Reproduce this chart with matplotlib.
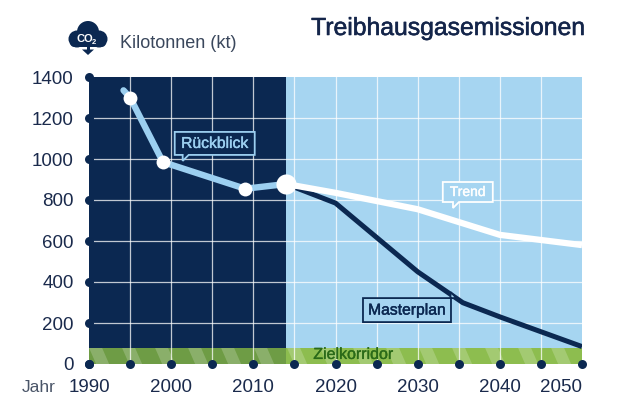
import matplotlib
matplotlib.use('Agg')
import matplotlib.pyplot as plt
import matplotlib.patheffects as pe
from matplotlib.patches import Rectangle, Polygon, Circle, FancyBboxPatch
import numpy as np

plt.rcParams['font.family'] = ['Liberation Sans', 'DejaVu Sans']

# ---------------- data ----------------
back_years = [1994.2, 1995, 1999, 2009, 2014]
back_values = [1335, 1300, 985, 855, 878]
back_marker_years = [1995, 1999, 2009]
back_marker_values = [1300, 985, 855]
now_year = 2014
now_value = 878

trend_years = [2014, 2020, 2030, 2040, 2050]
trend_values = [878, 835, 755, 630, 580]

master_years = [2014, 2020, 2030, 2035.5, 2040, 2050]
master_values = [878, 785, 450, 299, 230, 85]

target_corridor = 78

y_ticks = [0, 200, 400, 600, 800, 1000, 1200, 1400]
x_dot_years = list(range(1990, 2051, 5))
x_label_years = [1990, 2000, 2010, 2020, 2030, 2040, 2050]

title = 'Treibhausgasemissionen'
unit_label = 'Kilotonnen (kt)'
year_label = 'Jahr'

# ---------------- style ----------------
NAVY = '#0b2851'
LIGHT = '#a6d5f1'
RUECK = '#9ccff0'
TXT = '#1a2a4c'

W, H = 640, 420
fig = plt.figure(figsize=(6.4, 4.2), dpi=100)
ax_l, ax_r, ax_t, ax_b = 89, 582, 77, 364
ax = fig.add_axes([ax_l / W, 1 - ax_b / H, (ax_r - ax_l) / W, (ax_b - ax_t) / H])
ax.set_xlim(1990, 2050)
ax.set_ylim(0, 1400)
pxx = 60 / (ax_r - ax_l)      # years per pixel
pxy = 1400 / (ax_b - ax_t)    # kt per pixel

ax.axvspan(1990, now_year, color=NAVY, lw=0, zorder=0)
ax.axvspan(now_year, 2050, color=LIGHT, lw=0, zorder=0)

for yr in x_dot_years[1:-1]:
    ax.axvline(yr, color='white', lw=0.9, alpha=0.75, zorder=4)
for v in y_ticks[1:-1]:
    ax.axhline(v, color='white', lw=0.9, alpha=0.75, zorder=1)

# target corridor band with diagonal stripes
ax.add_patch(Rectangle((1990, 0), now_year - 1990, target_corridor, fc='#6e9c45', lw=0, zorder=2))
ax.add_patch(Rectangle((now_year, 0), 2050 - now_year, target_corridor, fc='#8dbd4f', lw=0, zorder=2))
period, sw, slant = 33 * pxx, 13 * pxx, 7 * pxx
for x0 in np.arange(1986, 2054, period):
    ax.add_patch(Polygon([(x0, target_corridor), (x0 + sw, target_corridor),
                          (x0 + sw + slant, 0), (x0 + slant, 0)],
                         closed=True, fc='white', alpha=0.2, lw=0, zorder=3))
ax.text(2017.3, target_corridor * 0.6, 'Zielkorridor', color='#2a6a18', fontsize=11.5,
        va='center', ha='left', zorder=5,
        path_effects=[pe.withStroke(linewidth=0.25, foreground='#2a6a18')])

# lines
ax.plot(master_years, master_values, color=NAVY, lw=3.6, zorder=6,
        solid_joinstyle='round', solid_capstyle='butt')
ax.plot(trend_years, trend_values, color='white', lw=4.5, zorder=7,
        solid_joinstyle='round', solid_capstyle='butt')
ax.plot(back_years, back_values, color=RUECK, lw=4.6, zorder=7,
        solid_joinstyle='round', solid_capstyle='round')
ax.scatter(back_marker_years, back_marker_values, s=100, c='white', lw=0, zorder=8)
ax.scatter([now_year], [now_value], s=210, c='white', lw=0, zorder=8)

# axis dots
ax.scatter([1990] * len(y_ticks), y_ticks, s=42, c=NAVY, lw=0, zorder=10, clip_on=False)
ax.scatter(x_dot_years, [0] * len(x_dot_years), s=42, c=NAVY, lw=0, zorder=10, clip_on=False)

# ticks
ax.set_yticks(y_ticks, labels=[str(v) for v in y_ticks])
ax.set_xticks(x_label_years, labels=[str(v) for v in x_label_years])
ax.tick_params(axis='both', length=0, labelsize=13.5, labelcolor=TXT)
ax.tick_params(axis='y', pad=11)
ax.tick_params(axis='x', pad=11)
ax.get_xticklabels()[-1].set_horizontalalignment('right')
for s in ax.spines.values():
    s.set_visible(False)


def callout(cx, cy, text, w, h, tail_x, tail_side, bg, ec, tc, fs):
    L, R = cx - w / 2 * pxx, cx + w / 2 * pxx
    B, T = cy - h / 2 * pxy, cy + h / 2 * pxy
    tw, td = 6 * pxx, 6 * pxy
    if tail_side == 'bottom':
        pts = [(L, T), (R, T), (R, B), (tail_x + tw, B), (tail_x, B - td), (tail_x, B), (L, B)]
    else:
        pts = [(L, T), (tail_x, T), (tail_x, T + td), (tail_x + tw, T), (R, T), (R, B), (L, B)]
    ax.add_patch(Polygon(pts, closed=True, fc=bg, ec=ec, lw=1.3, joinstyle='miter', zorder=9))
    ax.text(cx, cy, text, ha='center', va='center', color=tc, fontsize=fs, zorder=10,
            path_effects=[pe.withStroke(linewidth=0.3, foreground=tc)])


callout(2005.3, 1076, 'Rückblick', 80, 23, 2001.4, 'bottom', NAVY, RUECK, RUECK, 11.3)
callout(2036.1, 839, 'Trend', 50, 20, 2034.3, 'bottom', LIGHT, 'white', 'white', 10)
callout(2028.7, 263, 'Masterplan', 88, 24, 2034.0, 'top', LIGHT, NAVY, NAVY, 11.3)

# ---------------- overlay (titles, icon) ----------------
ov = fig.add_axes([0, 0, 1, 1], zorder=20)
ov.set_xlim(0, W)
ov.set_ylim(H, 0)
ov.axis('off')
ov.patch.set_alpha(0)

ov.text(585, 28, title, ha='right', va='center', fontsize=17.8, color='#14254a',
        path_effects=[pe.withStroke(linewidth=0.4, foreground='#14254a')])
ov.text(120, 43, unit_label, ha='left', va='center', fontsize=13, color='#3a475c')
ov.text(22, 387, year_label, ha='left', va='center', fontsize=12.5, color='#4a5568')

# CO2 cloud icon
for (cx, cy, r) in [(88, 32, 11), (77, 39, 8.5), (99, 39, 8.5)]:
    ov.add_patch(Circle((cx, cy), r, fc=NAVY, lw=0))
ov.add_patch(FancyBboxPatch((70, 36), 36, 11, boxstyle='round,pad=0,rounding_size=5', fc=NAVY, lw=0))
ov.add_patch(Rectangle((86.5, 46), 3, 4, fc=NAVY, lw=0))
ov.add_patch(Polygon([(82, 49.5), (94, 49.5), (88, 55)], closed=True, fc=NAVY, lw=0))
ov.text(85, 39.5, 'CO', ha='center', va='center', fontsize=8, color='white', fontweight='bold')
ov.text(94, 42, '2', ha='center', va='center', fontsize=5.5, color='white', fontweight='bold')

fig.savefig('out.png', dpi=100)
